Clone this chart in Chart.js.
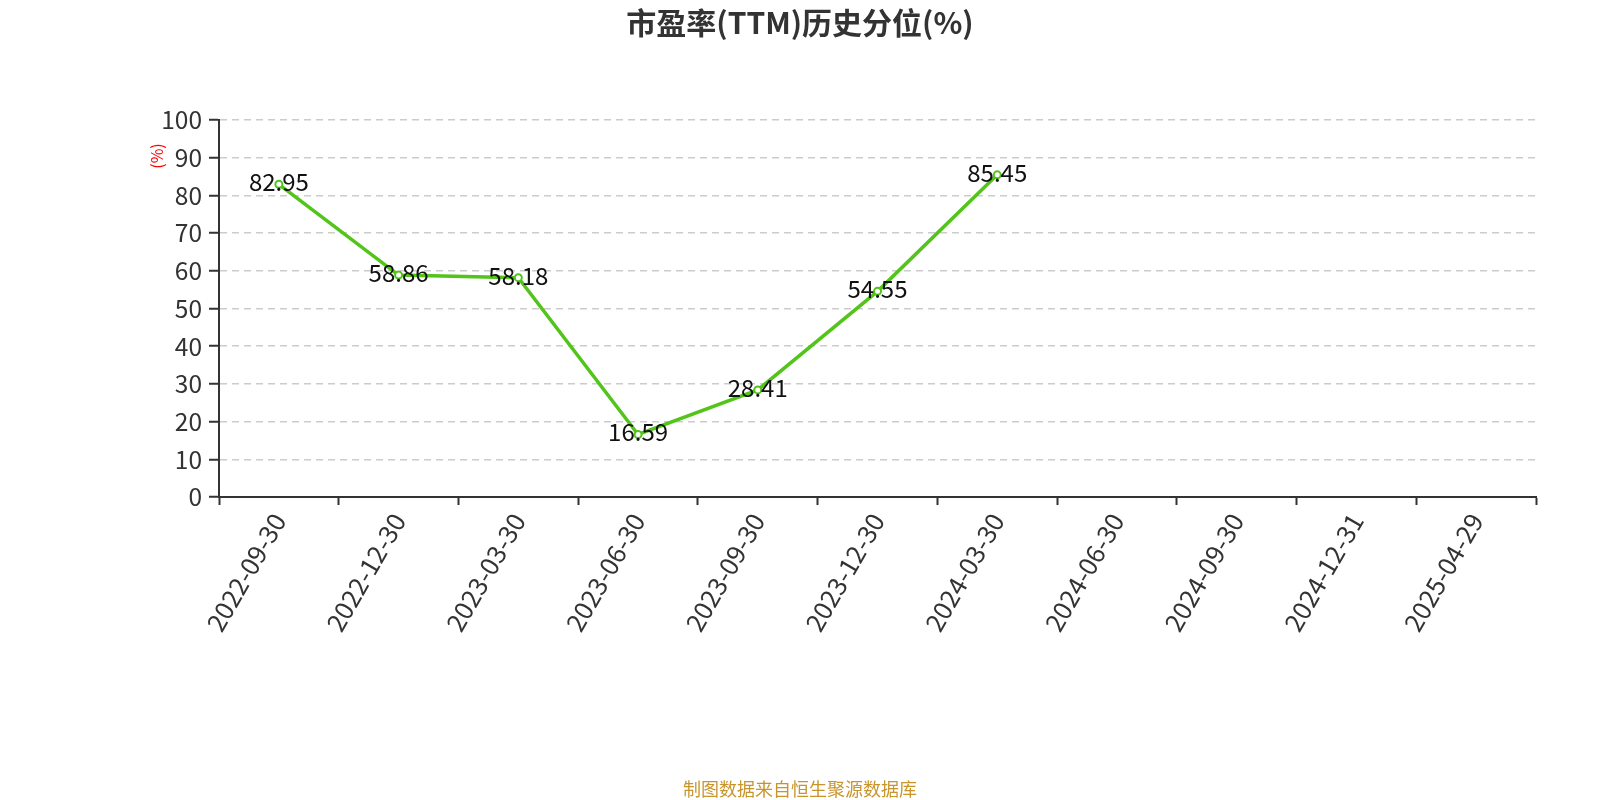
<!DOCTYPE html>
<html>
<head>
<meta charset="utf-8">
<script src="https://cdn.jsdelivr.net/npm/chart.js@4.4.1/dist/chart.umd.min.js"></script>
<style>
  html, body { margin: 0; padding: 0; background: #fff; }
  #wrap { width: 1600px; height: 800px; }
</style>
</head>
<body>
<div id="wrap"><canvas id="myChart" width="1600" height="800"></canvas></div>
<script>
var dates = ['2022-09-30', '2022-12-30', '2023-03-30', '2023-06-30', '2023-09-30', '2023-12-30',
             '2024-03-30', '2024-06-30', '2024-09-30', '2024-12-31', '2025-04-29'];
var peRank = [82.95, 58.86, 58.18, 16.59, 28.41, 54.55, 85.45, null, null, null, null];
var yTicks = [0, 10, 20, 30, 40, 50, 60, 70, 80, 90, 100];

var chartTitle = '市盈率(TTM)历史分位(%)';
var footNote = '制图数据来自恒生聚源数据库';
var yUnit = '(%)';

var fontName = '"Noto Sans CJK SC", "Noto Sans", sans-serif';
var lineGreen = '#52c41a';

// title, footer, unit text and value labels
var extras = {
    id: 'extras',
    afterDatasetsDraw: function(chart){
        var ctx = chart.ctx;
        var meta = chart.getDatasetMeta(0);
        ctx.save();
        ctx.fillStyle = '#111';
        ctx.font = '24px ' + fontName;
        ctx.textAlign = 'center';
        ctx.textBaseline = 'alphabetic';
        meta.data.forEach(function(pt, i){
            if (peRank[i] == null) return;
            ctx.fillText(peRank[i].toFixed(2), pt.x, pt.y + 7);
        });
        ctx.restore();
    },
    afterDraw: function(chart){
        var ctx = chart.ctx;
        ctx.save();
        ctx.textAlign = 'center';
        ctx.textBaseline = 'middle';
        ctx.fillStyle = '#333';
        ctx.font = 'bold 30px ' + fontName;
        ctx.fillText(chartTitle, 800, 23);

        ctx.fillStyle = '#c8952c';
        ctx.font = '18px ' + fontName;
        ctx.fillText(footNote, 800, 789);

        ctx.translate(157, 156);
        ctx.rotate(-Math.PI / 2);
        ctx.fillStyle = 'red';
        ctx.font = '16px ' + fontName;
        ctx.fillText(yUnit, 0, 0);
        ctx.restore();
    }
};

var data = {
    labels: dates,
    datasets: [{
        label: '市盈率分位',
        data: peRank,
        borderColor: lineGreen,
        backgroundColor: '#fff',
        borderWidth: 3.5,
        pointRadius: 3.5,
        pointBorderWidth: 2,
        pointBorderColor: lineGreen,
        pointBackgroundColor: '#fff',
        tension: 0,
        spanGaps: false
    }]
};

const config = {
    type: 'line',
    data: data,
    options: {
        responsive: false,
        animation: false,
        layout: { padding: { top: 120, right: 64, left: 0, bottom: 0 } },
        plugins: {
            legend: { display: false },
            title: { display: false },
            tooltip: { enabled: false }
        },
        scales: {
            x: {
                offset: true,
                afterFit: function(scale){ scale.height = 303; },
                grid: {
                    offset: true,
                    drawOnChartArea: false,
                    drawTicks: true,
                    tickLength: 8,
                    tickWidth: 2,
                    tickColor: '#333'
                },
                border: { display: true, color: '#333', width: 2 },
                ticks: {
                    minRotation: 60,
                    maxRotation: 60,
                    autoSkip: false,
                    padding: 3,
                    color: '#333',
                    font: { family: fontName, size: 25.5 }
                }
            },
            y: {
                min: 0,
                max: 100,
                afterFit: function(scale){ scale.width = 219; },
                afterBuildTicks: function(scale){
                    scale.ticks = yTicks.map(function(v){ return { value: v }; });
                },
                grid: {
                    color: '#cccccc',
                    lineWidth: 1.5,
                    drawTicks: true,
                    tickLength: 10,
                    tickWidth: 2,
                    tickColor: '#333',
                    tickBorderDash: []
                },
                border: { display: true, color: '#333', width: 2, dash: [7, 5] },
                ticks: {
                    padding: 7,
                    color: '#333',
                    font: { family: fontName, size: 24.5 }
                }
            }
        }
    },
    plugins: [extras]
};

var peChart = new Chart(document.getElementById('myChart'), config);
</script>
</body>
</html>
